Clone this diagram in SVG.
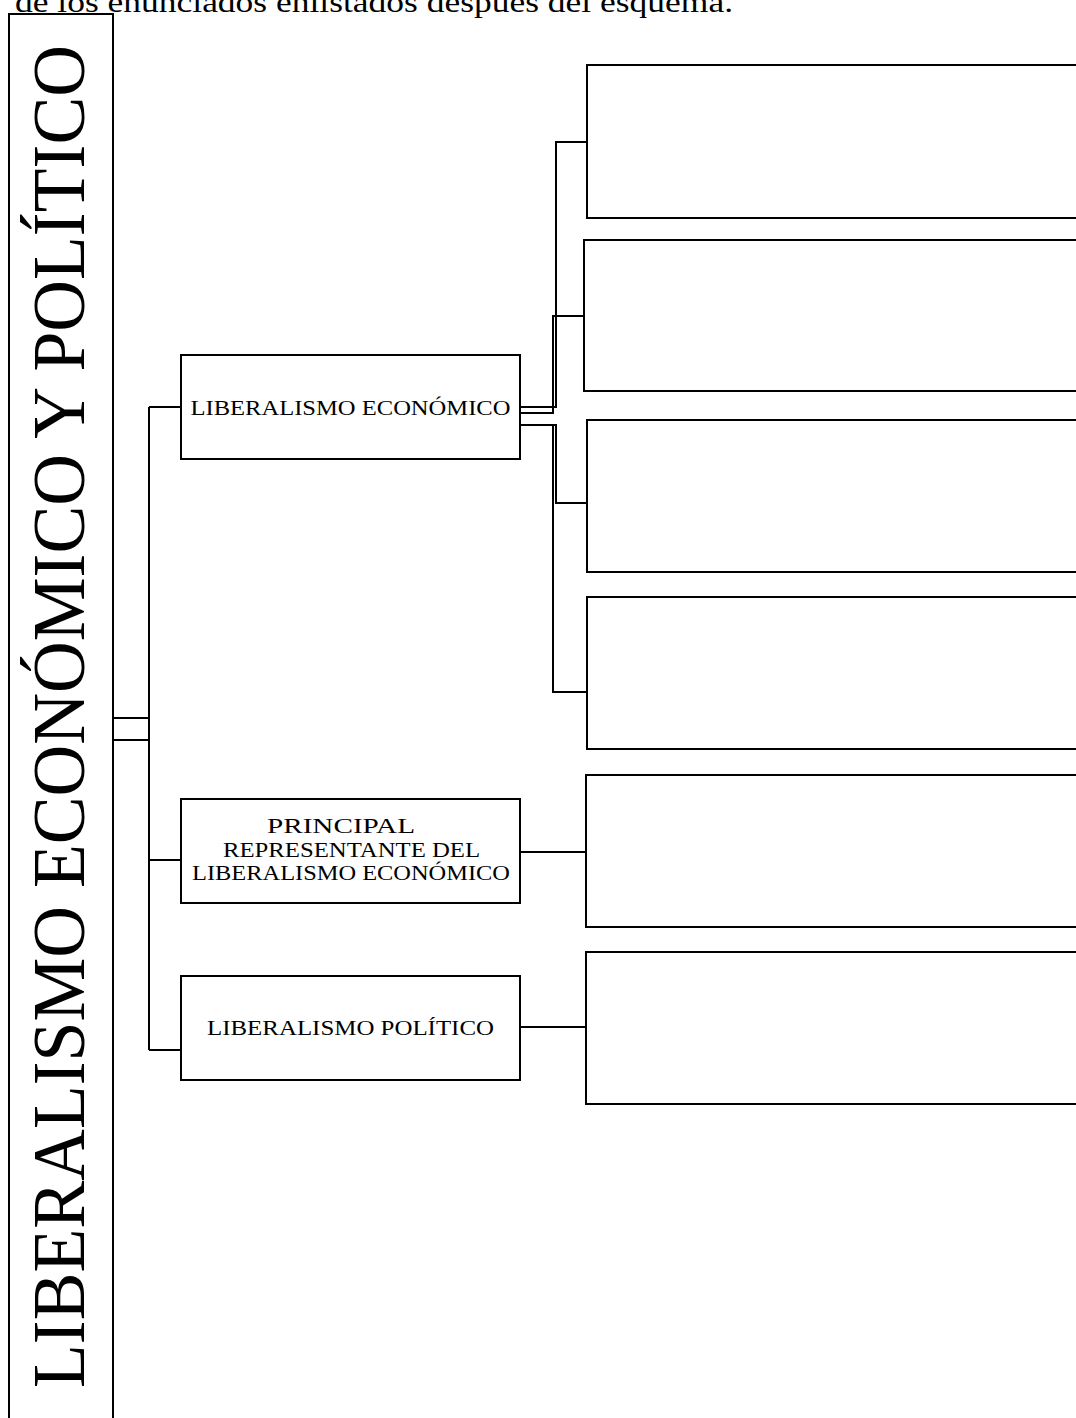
<svg xmlns="http://www.w3.org/2000/svg" width="1076" height="1418" viewBox="0 0 1076 1418">
<style>
.box{fill:#fff;stroke:#000;stroke-width:2}
.ln{fill:none;stroke:#000;stroke-width:2}
.t{font-family:"Liberation Serif","Times New Roman",serif;fill:#000}
.lbl{font-size:22px;text-anchor:middle}
</style>
<rect width="1076" height="1418" fill="#fff"/>
<text class="t" x="15" y="12" font-size="29" textLength="718" lengthAdjust="spacingAndGlyphs">de los enunciados enlistados después del esquema.</text>
<g id="main">
<rect class="box" x="9" y="14" width="104" height="1420"/>
<text class="t" transform="rotate(-90)" x="-1388" y="84" font-size="75" textLength="1343" lengthAdjust="spacingAndGlyphs">LIBERALISMO ECONÓMICO Y POLÍTICO</text>
</g>
<g id="connectors">
<path class="ln" d="M113 718H149M113 740H149M149 407V1050M149 407H181M149 860H181M149 1050H181"/>
<path class="ln" d="M520 407H556V142H587"/>
<path class="ln" d="M520 413H553V316H584"/>
<path class="ln" d="M520 425H556V503H587"/>
<path class="ln" d="M553 425V692H587"/>
<path class="ln" d="M520 852H586M520 1027H586"/>
</g>
<g id="n-econ">
<rect class="box" x="181" y="355" width="339" height="104"/>
<text class="t lbl" x="350.500" y="415" textLength="320" lengthAdjust="spacingAndGlyphs">LIBERALISMO ECONÓMICO</text>
</g>
<g id="n-rep">
<rect class="box" x="181" y="799" width="339" height="104"/>
<text class="t lbl" x="341" y="833" textLength="148" lengthAdjust="spacingAndGlyphs">PRINCIPAL</text>
<text class="t lbl" x="351.500" y="856.500" textLength="257" lengthAdjust="spacingAndGlyphs">REPRESENTANTE DEL</text>
<text class="t lbl" x="351" y="880" textLength="318" lengthAdjust="spacingAndGlyphs">LIBERALISMO ECONÓMICO</text>
</g>
<g id="n-pol">
<rect class="box" x="181" y="976" width="339" height="104"/>
<text class="t lbl" x="350.500" y="1035" textLength="287" lengthAdjust="spacingAndGlyphs">LIBERALISMO POLÍTICO</text>
</g>
<g id="r1"><rect class="box" x="587" y="65" width="500" height="153"/></g>
<g id="r2"><rect class="box" x="584" y="240" width="503" height="151"/></g>
<g id="r3"><rect class="box" x="587" y="420" width="500" height="152"/></g>
<g id="r4"><rect class="box" x="587" y="597" width="500" height="152"/></g>
<g id="r5"><rect class="box" x="586" y="775" width="501" height="152"/></g>
<g id="r6"><rect class="box" x="586" y="952" width="501" height="152"/></g>
</svg>
